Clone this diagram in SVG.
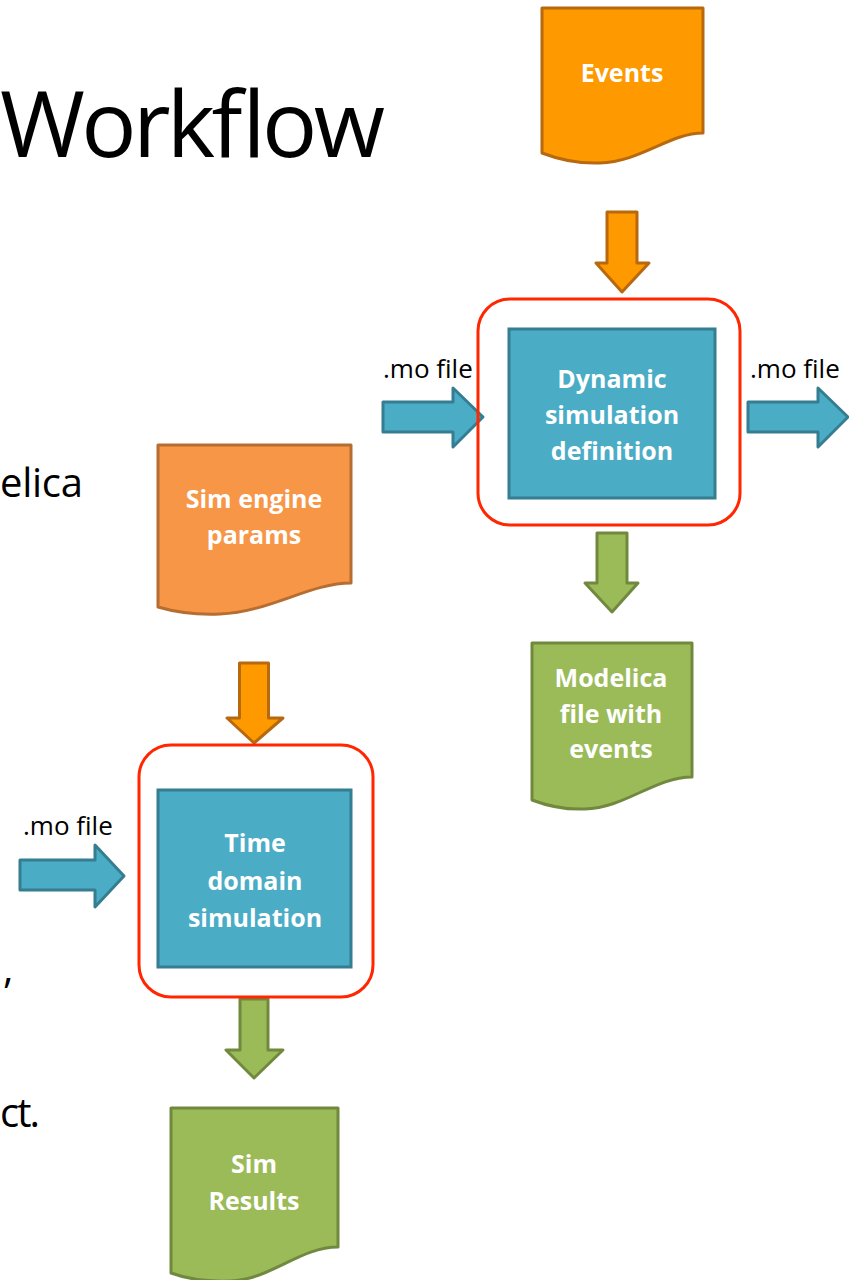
<svg xmlns="http://www.w3.org/2000/svg" width="849" height="1280" viewBox="0 0 849 1280">
  <style>
    .body { font-family: "Open Sans", "Liberation Sans", sans-serif; fill: #000; }
    .lbl { font-family: "Open Sans", "Liberation Sans", sans-serif; font-size: 26px; fill: #000; }
    .node-text { font-family: "Open Sans", "Liberation Sans", sans-serif; font-weight: bold; font-size: 25px; fill: #fff; text-anchor: middle; }
    .doc-orange { fill: #FF9900; stroke: #B7690F; stroke-width: 3; stroke-linejoin: round; }
    .doc-peach { fill: #F79646; stroke: #B66D31; stroke-width: 3; stroke-linejoin: round; }
    .doc-green { fill: #9BBB59; stroke: #71893F; stroke-width: 3; stroke-linejoin: round; }
    .process { fill: #4BACC6; stroke: #357D91; stroke-width: 3; }
    .focus { fill: none; stroke: #FF2600; stroke-width: 3; }
    .arr-orange { fill: #FF9900; stroke: #B7690F; stroke-width: 3; stroke-linejoin: round; }
    .arr-green { fill: #9BBB59; stroke: #71893F; stroke-width: 3; stroke-linejoin: round; }
    .arr-blue { fill: #4BACC6; stroke: #357D91; stroke-width: 3; stroke-linejoin: round; }
  </style>

  <!-- slide text -->
  <text class="body" x="0" y="157" font-size="92" textLength="385">Workflow</text>
  <text class="body" x="0" y="497" font-size="40" textLength="83">elica</text>
  <text class="body" x="3" y="983" font-size="40">,</text>
  <text class="body" x="0" y="1127" font-size="40" textLength="40">ct.</text>

  <!-- connectors -->
  <g id="connectors">
    <polygon class="arr-orange" points="607,212 637,212 637,263 649,263 622,292 596,263 607,263"/>
    <polygon class="arr-blue" points="383,402 453,402 453,388 483,417 453,447 453,432 383,432"/>
    <polygon class="arr-blue" points="748,402 818,402 818,388 848,417 818,447 818,432 748,432"/>
    <polygon class="arr-green" points="597,533 627,533 627,583 638,583 612,612 585,583 597,583"/>
    <polygon class="arr-orange" points="239.5,663 268.5,663 268.5,718 283,718 254,743 227,718 239.5,718"/>
    <polygon class="arr-blue" points="20,860 95,860 95,845 124,876 95,907 95,890 20,890"/>
    <polygon class="arr-green" points="240,999 268,999 268,1050 283,1050 254,1078 226,1050 240,1050"/>
    <text class="lbl" x="383" y="378">.mo file</text>
    <text class="lbl" x="750" y="378">.mo file</text>
    <text class="lbl" x="23" y="835">.mo file</text>
  </g>

  <g id="events">
    <path class="doc-orange" d="M542,8 H703 V133 C670,133 640,162 600,163 C575,164 555,158 542,153 Z"/>
    <text class="node-text" x="622" y="82">Events</text>
  </g>

  <g id="dynamic-sim">
    <rect class="focus" x="478" y="299" width="262" height="226" rx="32"/>
    <rect class="process" x="509" y="329" width="206" height="169"/>
    <text class="node-text" x="612" y="388">Dynamic</text>
    <text class="node-text" x="612" y="424">simulation</text>
    <text class="node-text" x="612" y="460">definition</text>
  </g>

  <g id="sim-engine-params">
    <path class="doc-peach" d="M158,445 H351 V583 C310,583 270,612 220,614 C195,615 175,612 158,607 Z"/>
    <text class="node-text" x="254" y="508">Sim engine</text>
    <text class="node-text" x="254" y="544">params</text>
  </g>

  <g id="modelica-events">
    <path class="doc-green" d="M532,643 H692 V777 C655,777 625,808 585,809 C562,810 545,805 532,800 Z"/>
    <text class="node-text" x="611" y="687">Modelica</text>
    <text class="node-text" x="611" y="723">file with</text>
    <text class="node-text" x="611" y="758">events</text>
  </g>

  <g id="time-domain-sim">
    <rect class="focus" x="139" y="745" width="234" height="252" rx="32"/>
    <rect class="process" x="158" y="790" width="193" height="177"/>
    <text class="node-text" x="255" y="852">Time</text>
    <text class="node-text" x="255" y="890">domain</text>
    <text class="node-text" x="255" y="927">simulation</text>
  </g>

  <g id="sim-results">
    <path class="doc-green" d="M171,1108 H338 V1247 C300,1247 270,1280 230,1281 C205,1282 185,1278 171,1273 Z"/>
    <text class="node-text" x="254" y="1173">Sim</text>
    <text class="node-text" x="254" y="1210">Results</text>
  </g>
</svg>
